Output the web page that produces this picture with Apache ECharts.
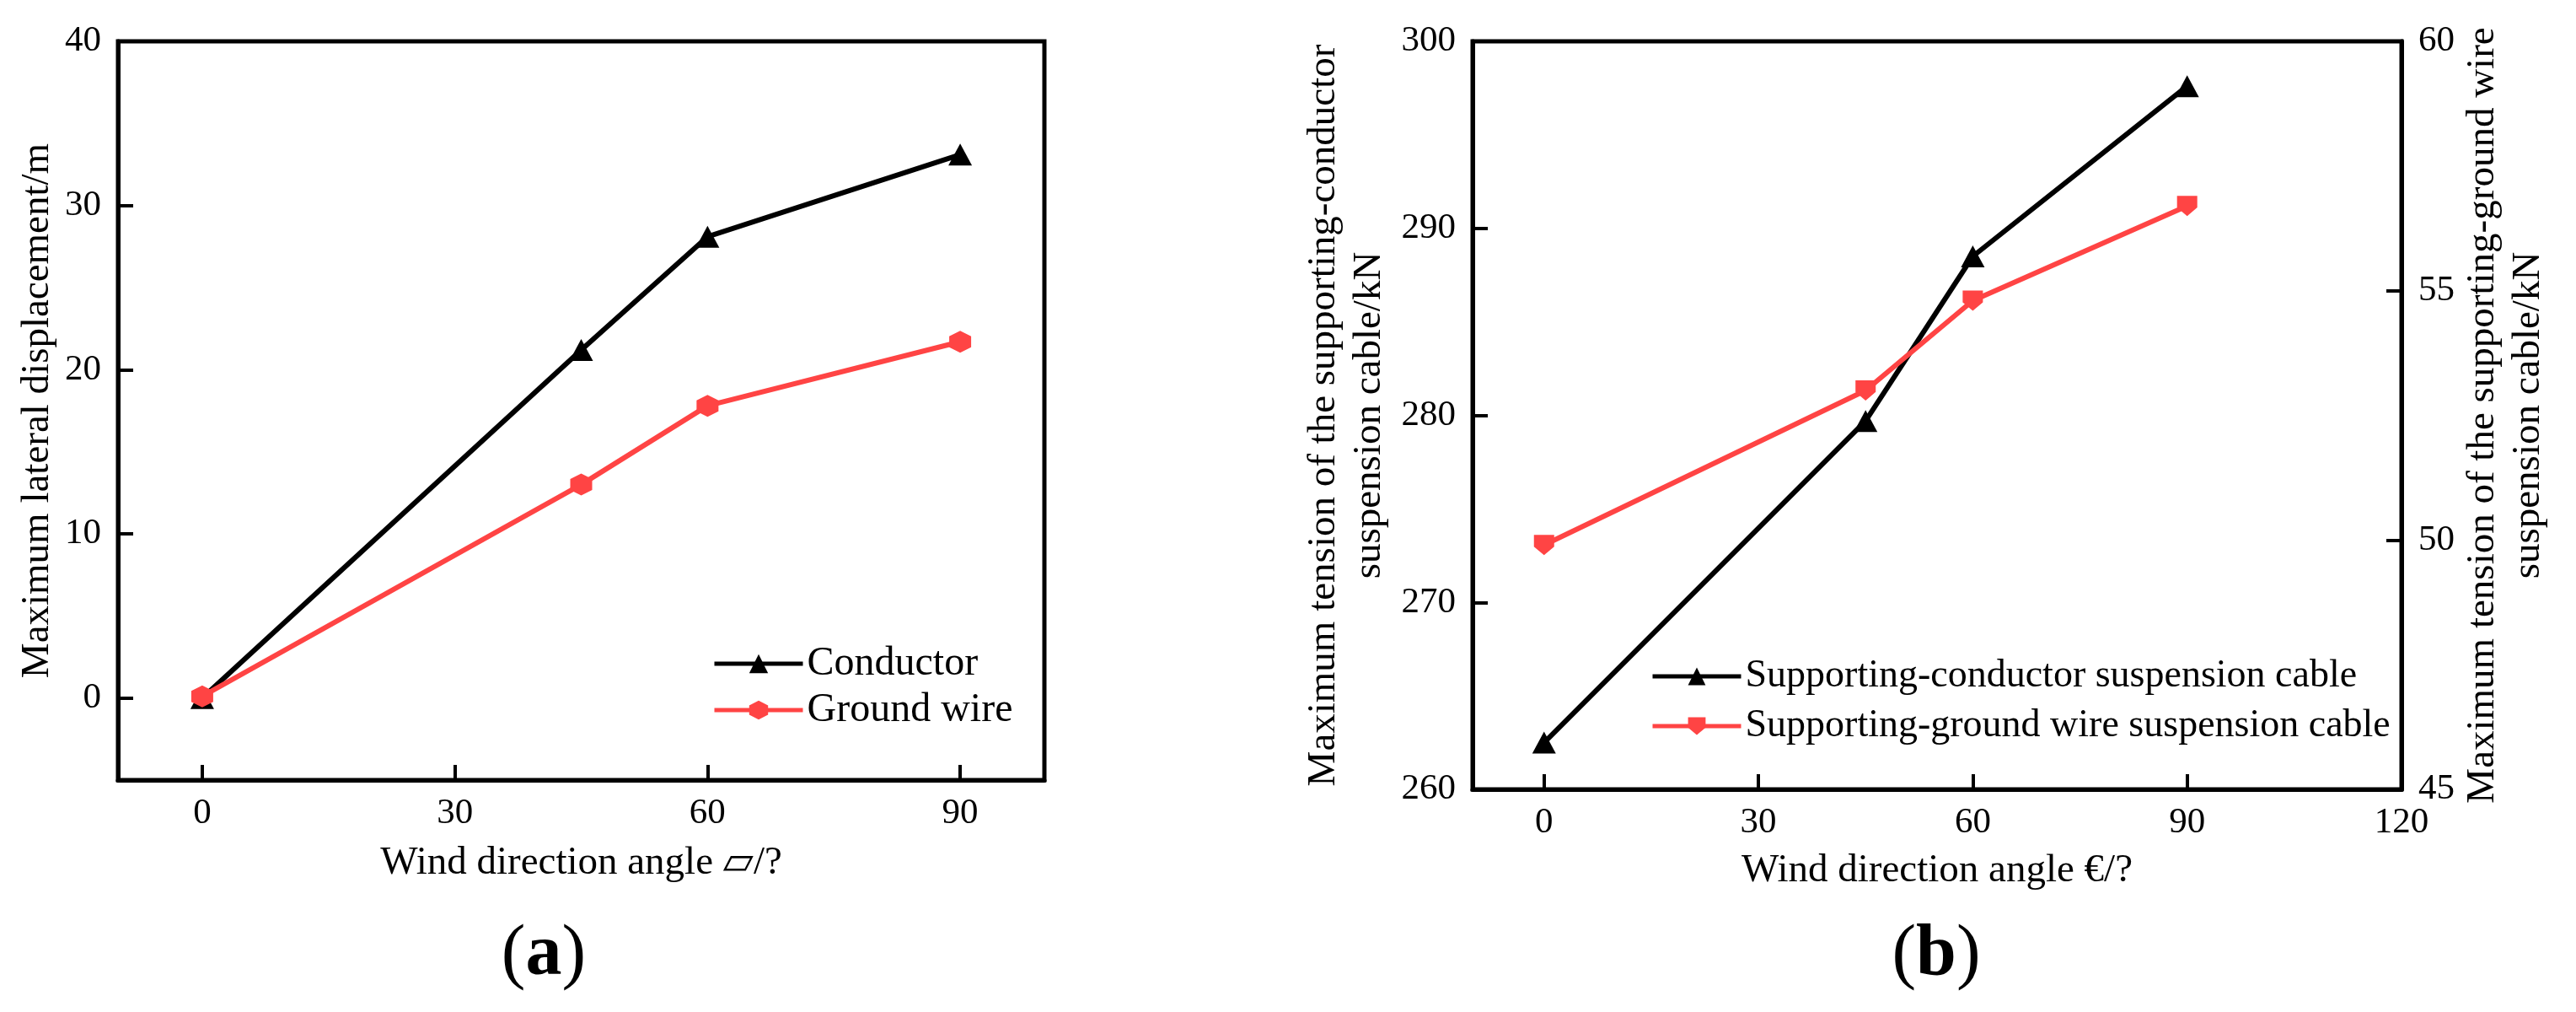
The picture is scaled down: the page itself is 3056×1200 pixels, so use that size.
<!DOCTYPE html>
<html>
<head>
<meta charset="utf-8">
<script src="https://cdn.jsdelivr.net/npm/echarts@6/dist/echarts.min.js"></script>
<style>
    html, body { margin: 0; padding: 0; background: #fff; }
    #chart { width: 3056px; height: 1200px; }
</style>
</head>
<body>
<div id="chart"></div>
<script>
// wind direction angles (both panels)
const angles = [0, 45, 60, 90];

// (a) maximum lateral displacement / m
const conductorDisp = [0, 21.2, 28.1, 33.1];
const groundDisp = [0.1, 13.0, 17.8, 21.7];

// (b) maximum tension of the suspension cables / kN
const conductorTension = [262.5, 279.7, 288.5, 297.6];
const groundTension = [49.9, 53.0, 54.8, 56.7];

// tick labels
const xTicksA = [0, 30, 60, 90];
const yTicksA = [0, 10, 20, 30, 40];
const xTicksB = [0, 30, 60, 90, 120];

const FONT = '"Liberation Serif", "DejaVu Serif", serif';
const RED = '#ff4444';
const HEXAGON = 'path://M0,-10 L8,-5 L8,5 L0,10 L-8,5 L-8,-5 Z';
const PENTAGON = 'path://M-10,-9 L10,-9 L10,2 L0,10 L-10,2 Z';

function pairs(xs, ys) {
    return xs.map((x, i) => [x, ys[i]]);
}

let chart = echarts.init(document.getElementById('chart'), null, { renderer: 'canvas' });

// common axis styling
function axisBase(ticks, margin) {
    return {
        axisLine: { show: true, onZero: false, lineStyle: { color: '#000', width: 5 } },
        axisTick: { show: true, inside: true, length: 18, lineStyle: { color: '#000', width: 4 }, customValues: ticks },
        axisLabel: { color: '#000', fontFamily: FONT, fontSize: 43, margin: margin, customValues: ticks },
        splitLine: { show: false },
        nameTextStyle: { color: '#000', fontFamily: FONT, fontSize: 47, lineHeight: 54 }
    };
}

function panelTitle(letter, x) {
    return {
        text: '{p|(}{b|' + letter + '}{p|)}',
        left: x, top: 1085, textAlign: 'center',
        textStyle: { rich: {
            p: { fontFamily: FONT, fontSize: 86, fontWeight: 'normal', color: '#000' },
            b: { fontFamily: FONT, fontSize: 86, fontWeight: 'bold', color: '#000' }
        } }
    };
}

let option = {
    animation: false,
    backgroundColor: '#fff',
    title: [panelTitle('a', 640), panelTitle('b', 2292)],
    grid: [
        { left: 140, top: 49, width: 1099, height: 876, show: true, borderColor: '#000', borderWidth: 5, backgroundColor: 'transparent', containLabel: false, outerBoundsMode: 'none' },
        { left: 1747, top: 49, width: 1102, height: 887, show: true, borderColor: '#000', borderWidth: 5, backgroundColor: 'transparent', containLabel: false, outerBoundsMode: 'none' }
    ],
    legend: [
        {
            orient: 'vertical', left: 840, top: 758,
            itemWidth: 105, itemHeight: 28, itemGap: 7,
            lineStyle: { width: 5 },
            textStyle: { color: '#000', fontFamily: FONT, fontSize: 48, lineHeight: 48 },
            data: ['Conductor', 'Ground wire']
        },
        {
            orient: 'vertical', left: 1953, top: 774,
            itemWidth: 105, itemHeight: 26, itemGap: 13,
            lineStyle: { width: 5 },
            textStyle: { color: '#000', fontFamily: FONT, fontSize: 46, lineHeight: 46 },
            data: ['Supporting-conductor suspension cable', 'Supporting-ground wire suspension cable']
        }
    ],
    xAxis: [
        Object.assign(axisBase(xTicksA, 18), {
            type: 'value', gridIndex: 0, min: -10, max: 100, position: 'bottom',
            name: 'Wind direction angle \u25B1/?', nameLocation: 'middle', nameGap: 72
        }),
        Object.assign(axisBase(xTicksB, 18), {
            type: 'value', gridIndex: 1, min: -10, max: 120, position: 'bottom',
            name: 'Wind direction angle \u20AC/?', nameLocation: 'middle', nameGap: 70
        })
    ],
    yAxis: [
        Object.assign(axisBase(yTicksA, 20), {
            type: 'value', gridIndex: 0, min: -5, max: 40, position: 'left',
            name: 'Maximum lateral displacement/m', nameLocation: 'middle', nameGap: 68
        }),
        Object.assign(axisBase(null, 20), {
            type: 'value', gridIndex: 1, min: 260, max: 300, interval: 10, position: 'left',
            name: 'Maximum tension of the supporting-conductor\nsuspension cable/kN', nameLocation: 'middle', nameGap: 95
        }),
        Object.assign(axisBase(null, 20), {
            type: 'value', gridIndex: 1, min: 45, max: 60, interval: 5, position: 'right',
            name: 'Maximum tension of the supporting-ground wire\nsuspension cable/kN', nameLocation: 'middle', nameGap: 70, nameRotate: 90
        })
    ],
    series: [
        {
            name: 'Conductor', type: 'line', xAxisIndex: 0, yAxisIndex: 0,
            data: pairs(angles, conductorDisp),
            symbol: 'triangle', symbolSize: [28, 26],
            itemStyle: { color: '#000' }, lineStyle: { color: '#000', width: 6 }
        },
        {
            name: 'Ground wire', type: 'line', xAxisIndex: 0, yAxisIndex: 0,
            data: pairs(angles, groundDisp),
            symbol: HEXAGON, symbolSize: 26,
            itemStyle: { color: RED }, lineStyle: { color: RED, width: 6 }
        },
        {
            name: 'Supporting-conductor suspension cable', type: 'line', xAxisIndex: 1, yAxisIndex: 1,
            data: pairs(angles, conductorTension),
            symbol: 'triangle', symbolSize: [28, 26],
            itemStyle: { color: '#000' }, lineStyle: { color: '#000', width: 6 }
        },
        {
            name: 'Supporting-ground wire suspension cable', type: 'line', xAxisIndex: 1, yAxisIndex: 2,
            data: pairs(angles, groundTension),
            symbol: PENTAGON, symbolSize: 24,
            itemStyle: { color: RED }, lineStyle: { color: RED, width: 6 }
        }
    ]
};

chart.setOption(option);
</script>
</body>
</html>
